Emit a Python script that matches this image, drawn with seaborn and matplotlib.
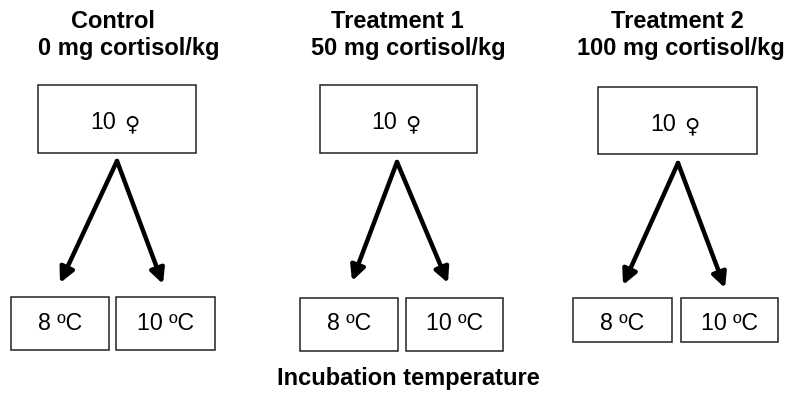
"""
Diseño experimental: tres grupos de cortisol, 10 hembras cada uno,
repartidas en dos temperaturas de incubación.
"""
import matplotlib
matplotlib.use("Agg")
import matplotlib.pyplot as plt
import seaborn as sns
from matplotlib.patches import Rectangle

# --- Datos ---
grupos = ["Control", "Treatment 1", "Treatment 2"]
dosis = ["0 mg cortisol/kg", "50 mg cortisol/kg", "100 mg cortisol/kg"]
n_hembras = [10, 10, 10]
temperaturas = ["8 ºC", "10 ºC"]
eje_x = "Incubation temperature"

# --- Layout (pixeles de la figura) ---
titulo_x = [113, 397, 677]
dosis_x = [129, 408, 681]
caja_sup = [(38, 85, 158, 68), (320, 85, 157, 68), (598, 87, 159, 67)]
apex = [(117, 161), (397, 162), (678, 163)]
puntas = [[(60, 283), (163, 284)], [(352, 281), (448, 283)], [(623, 285), (725, 288)]]
cajas_inf = [[(11, 297, 98, 53), (116, 297, 99, 53)],
             [(300, 298, 98, 53), (406, 298, 97, 53)],
             [(573, 298, 99, 44), (681, 298, 97, 44)]]

sns.set_theme(style="white")
plt.rcParams['font.family'] = ['Liberation Sans', 'DejaVu Sans']

fig = plt.figure(figsize=(7.89, 4.01), dpi=100)
ax = fig.add_axes([0, 0, 1, 1])
ax.set_xlim(0, 789)
ax.set_ylim(401, 0)
ax.axis("off")

for i, grupo in enumerate(grupos):
    ax.text(titulo_x[i], 22, grupo, ha="center", va="center",
            fontsize=17, fontweight="bold", color="black")
    ax.text(dosis_x[i], 49, dosis[i], ha="center", va="center",
            fontsize=17, fontweight="bold", color="black")

    x, y, w, h = caja_sup[i]
    ax.add_patch(Rectangle((x, y), w, h, fill=False, edgecolor="#222222", lw=1.1))
    cx = x + w / 2
    ax.text(cx - 1, y + 44, f"{n_hembras[i]}", ha="right", va="baseline",
            fontsize=16.7, color="black")
    ax.text(cx + 7, y + 45, "♀", ha="left", va="baseline",
            fontsize=15, color="black", family=["DejaVu Sans"])

    # flechas hacia cada temperatura
    for punta in puntas[i]:
        ax.annotate("", xy=punta, xytext=apex[i],
                    arrowprops=dict(arrowstyle="-|>", color="black", lw=3.2,
                                    mutation_scale=22, shrinkA=0, shrinkB=0))

    for j, temp in enumerate(temperaturas):
        x, y, w, h = cajas_inf[i][j]
        ax.add_patch(Rectangle((x, y), w, h, fill=False, edgecolor="#222222", lw=1.1))
        ax.text(x + w / 2, y + 26, temp, ha="center", va="center",
                fontsize=16.7, color="black")

ax.text(408, 379, eje_x, ha="center", va="center",
        fontsize=17, fontweight="bold", color="black")

fig.savefig("out.png", dpi=100)
